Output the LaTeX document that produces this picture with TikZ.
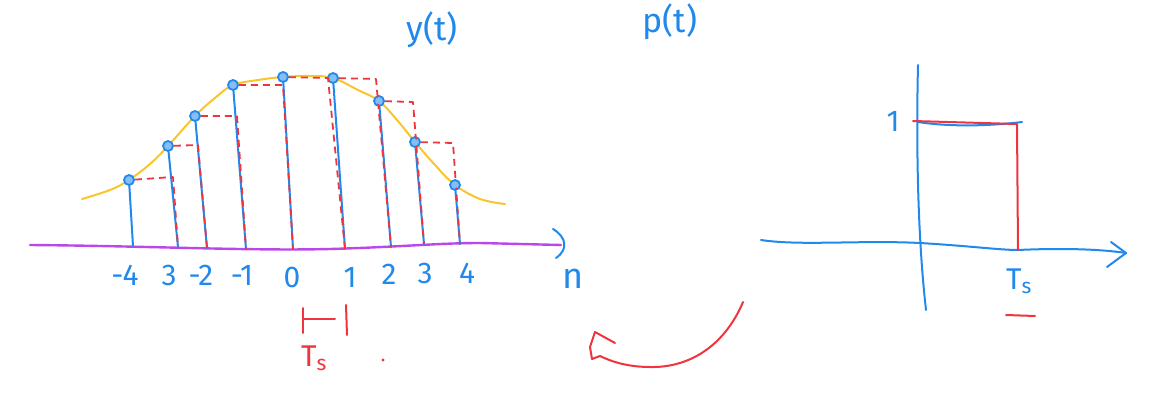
\documentclass[tikz,border=0pt]{standalone}
\usepackage{fontspec}
\setmainfont{Fira Sans}
\definecolor{penblue}{RGB}{33,136,236}
\definecolor{inkred}{RGB}{240,52,62}
\definecolor{gold}{RGB}{248,198,44}
\definecolor{violetline}{RGB}{186,72,232}
\begin{document}
\begin{tikzpicture}[x=1pt,y=-1pt,
  bluestroke/.style={draw=penblue,line width=2pt,line cap=round,line join=round},
  redstroke/.style={draw=inkred,line width=2pt,line cap=round,line join=round},
  hold/.style={draw=inkred,line width=1.8pt,dash pattern=on 7pt off 5pt,line join=round},
  goldline/.style={draw=gold,line width=2pt,line cap=round},
  axisline/.style={draw=violetline,line width=2.4pt,line cap=round},
  sample/.style={circle,draw=penblue,fill=penblue!55,line width=1.8pt,minimum size=10pt,inner sep=0pt},
  bluelbl/.style={text=penblue,font=\fontsize{30}{30}\selectfont\addfontfeatures{LetterSpace=-2},inner sep=0pt},
  redlbl/.style={text=inkred,font=\fontsize{30}{30}\selectfont,inner sep=0pt}]
\useasboundingbox (0,0) rectangle (1168,404);

% ---------------- left graph ----------------
\draw[goldline] plot[smooth,tension=0.6] coordinates {(82,199) (110,190) (129,180) (150,164) (168,146) (195,116) (215,98) (233,85) (258,80) (283,77) (310,76) (333,78) (358,90) (379,101) (397,120) (415,142) (435,165) (455,185) (480,199) (505,204)};

\coordinate (axL) at (30,245);
\coordinate (axR) at (561,245);
\draw[axisline] (axL) .. controls (150,246) and (250,251) .. (330,249) .. controls (400,247) and (440,243) .. (480,243) -- (axR);
\draw[bluestroke] (553,229) .. controls (566,237) and (569,249) .. (556,258);

% samples
\node[sample] (d-4) at (129,180) {};
\node[sample] (d-3) at (168,146) {};
\node[sample] (d-2) at (195,116) {};
\node[sample] (d-1) at (233,85) {};
\node[sample] (d0) at (283,77) {};
\node[sample] (d1) at (333,78) {};
\node[sample] (d2) at (379,101) {};
\node[sample] (d3) at (415,142) {};
\node[sample] (d4) at (455,185) {};

\coordinate (b-4) at (133,246);
\coordinate (b-3) at (178,247);
\coordinate (b-2) at (207,248);
\coordinate (b-1) at (246,249);
\coordinate (b0) at (293,249);
\coordinate (b1) at (345,249);
\coordinate (b2) at (391,247);
\coordinate (b3) at (424,244);
\coordinate (b4) at (460,244);

\foreach \k in {-4,-3,-2,-1,0,1,2,3,4}
  \draw[bluestroke] (d\k) -- (b\k);

% zero-order hold (red dashed)
\coordinate (h-4) at (173,177);
\coordinate (h-3) at (198,145);
\coordinate (h-2) at (237,116);
\coordinate (h-1) at (283,85);
\coordinate (h0) at (328,78);
\coordinate (h1) at (376,79);
\coordinate (h2) at (413,102);
\coordinate (h3) at (453,143);
\draw[hold] (d-4) -- (h-4) -- (b-3);
\draw[hold] (d-3) -- (h-3) -- (b-2);
\draw[hold] (d-2) -- (h-2) -- (b-1);
\draw[hold] (d-1) -- (h-1) -- (b0);
\draw[hold] (d0) -- (h0) -- (b1);
\draw[hold] (d1) -- (h1) -- (b2);
\draw[hold] (d2) -- (h2) -- (b3);
\draw[hold] (d3) -- (h3) -- (b4);

% redraw sample dots on top
\foreach \x/\y in {129/180,168/146,195/116,233/85,283/77,333/78,379/101,415/142,455/185}
  \fill[penblue!55] (\x,\y) circle (3pt);

% axis labels
\node[bluelbl] (l-4) at (125,275) {-4};
\node[bluelbl] (l-3) at (169,275) {3};
\node[bluelbl] (l-2) at (201,275) {-2};
\node[bluelbl] (l-1) at (242,275) {-1};
\node[bluelbl] (l0) at (292,277) {0};
\node[bluelbl] (l1) at (350,277) {1};
\node[bluelbl] (l2) at (389,274) {2};
\node[bluelbl] (l3) at (425,273) {3};
\node[bluelbl] (l4) at (467,273) {4};
\node[bluelbl,font=\fontsize{36}{36}\selectfont] (ln) at (573,279) {n};
\node[bluelbl,font=\fontsize{34}{34}\selectfont] (ly) at (432,30) {y(t)};

% Ts marker
\coordinate (m1) at (303,308);
\coordinate (m2) at (303,333);
\coordinate (m3) at (303,319);
\coordinate (m4) at (335,319);
\coordinate (m5) at (346,305);
\coordinate (m6) at (347,335);
\draw[redstroke] (m1) -- (m2);
\draw[redstroke] (m3) -- (m4);
\draw[redstroke] (m5) -- (m6);
\node[redlbl] (lts) at (314,358) {T\textsubscript{s}};
\fill[inkred] (383,360) circle (1.6pt);

% ---------------- right graph ----------------
\node[bluelbl,font=\fontsize{34}{34}\selectfont] (lp) at (670,22) {p(t)};
\coordinate (yt) at (918,65);
\coordinate (yb) at (926,310);
\draw[bluestroke] (yt) .. controls (916,150) and (918,240) .. (yb);
\coordinate (xL) at (761,240);
\coordinate (xR) at (1126,253);
\draw[bluestroke] (xL) .. controls (800,246) and (860,240) .. (920,243) .. controls (970,246) and (1000,250) .. (1018,250) .. controls (1060,248) and (1100,249) .. (xR);
\draw[bluestroke] (1111,242) -- (xR) -- (1107,267);

\coordinate (r1) at (913,121);
\coordinate (r2) at (1017,124);
\coordinate (r3) at (1018,250);
\draw[bluestroke] (918,122) .. controls (950,127) and (990,126) .. (1022,122);
\draw[redstroke] (r1) -- (r2) -- (r3);
\node[bluelbl] (l1y) at (893,121) {1};
\node[bluelbl] (lts2) at (1019,281) {T\textsubscript{s}};
\coordinate (u1) at (1006,315);
\coordinate (u2) at (1035,316);
\draw[redstroke] (u1) -- (u2);

% curved red arrow
\coordinate (c1) at (743,302);
\coordinate (c2) at (595,332);
\draw[redstroke] (c1) .. controls (725,345) and (690,368) .. (650,367) .. controls (625,367) and (608,360) .. (600,356) -- (592,359) -- (590,347) -- (c2) -- (615,343);
\end{tikzpicture}
\end{document}
